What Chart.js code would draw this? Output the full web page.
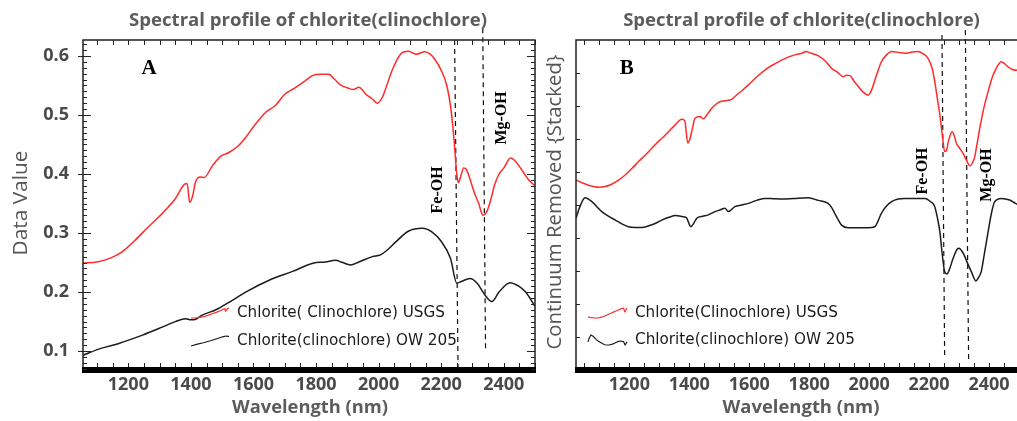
<!DOCTYPE html>
<html>
<head>
<meta charset="utf-8">
<script src="https://cdn.jsdelivr.net/npm/chart.js@4.4.0/dist/chart.umd.min.js"></script>
<style>
  html, body { margin: 0; padding: 0; background: #fff; width: 1017px; height: 421px; overflow: hidden; }
  canvas { position: absolute; top: 0; }
</style>
</head>
<body>
<canvas id="chartA" width="545" height="421" style="left:0"></canvas>
<canvas id="chartB" width="480" height="421" style="left:545px"></canvas>
<script>
// Panel A : reflectance (Data Value)
const wlUsgsA = [1055, 1100, 1140, 1180, 1220, 1265, 1310, 1350, 1380, 1388, 1396, 1405, 1415, 1430, 1442, 1470, 1495, 1520, 1550, 1575, 1600, 1640, 1670, 1700, 1730, 1760, 1790, 1815, 1840, 1860, 1878, 1900, 1920, 1937, 1960, 1980, 1995, 2012, 2030, 2045, 2070, 2095, 2120, 2148, 2165, 2180, 2200, 2218, 2230, 2240, 2250, 2255, 2262, 2272, 2280, 2290, 2305, 2320, 2334, 2345, 2358, 2370, 2385, 2400, 2422, 2440, 2460, 2480, 2500];
const usgsA = [0.249, 0.251, 0.257, 0.268, 0.287, 0.311, 0.334, 0.358, 0.383, 0.384, 0.352, 0.362, 0.387, 0.395, 0.394, 0.415, 0.430, 0.436, 0.447, 0.462, 0.480, 0.505, 0.516, 0.535, 0.545, 0.556, 0.567, 0.569, 0.569, 0.560, 0.551, 0.546, 0.543, 0.547, 0.535, 0.527, 0.520, 0.530, 0.556, 0.578, 0.603, 0.608, 0.603, 0.607, 0.603, 0.594, 0.576, 0.550, 0.515, 0.465, 0.400, 0.385, 0.395, 0.410, 0.408, 0.395, 0.370, 0.350, 0.330, 0.335, 0.355, 0.380, 0.400, 0.410, 0.427, 0.420, 0.405, 0.390, 0.380];
const wlOwA = [1055, 1115, 1170, 1245, 1310, 1350, 1383, 1400, 1410, 1436, 1480, 1520, 1575, 1650, 1725, 1790, 1830, 1862, 1885, 1910, 1937, 1980, 2006, 2025, 2055, 2095, 2140, 2170, 2200, 2230, 2250, 2265, 2292, 2315, 2340, 2362, 2385, 2420, 2448, 2470, 2500];
const owA = [0.093, 0.105, 0.113, 0.127, 0.141, 0.150, 0.155, 0.153, 0.153, 0.161, 0.170, 0.182, 0.200, 0.220, 0.235, 0.249, 0.251, 0.254, 0.250, 0.246, 0.251, 0.260, 0.263, 0.270, 0.285, 0.303, 0.308, 0.302, 0.286, 0.257, 0.215, 0.218, 0.223, 0.215, 0.195, 0.184, 0.200, 0.216, 0.210, 0.200, 0.176];

// Panel B : continuum removed, stacked (arbitrary units)
const wlUsgsB = [1022, 1040, 1064, 1097, 1120, 1141, 1165, 1186, 1210, 1230, 1255, 1275, 1300, 1320, 1352, 1375, 1385, 1395, 1402, 1410, 1419, 1436, 1447, 1460, 1475, 1490, 1502, 1520, 1541, 1560, 1580, 1597, 1625, 1652, 1680, 1708, 1730, 1752, 1775, 1790, 1800, 1831, 1855, 1875, 1895, 1914, 1925, 1936, 1950, 1964, 1980, 1997, 2008, 2025, 2041, 2058, 2075, 2100, 2119, 2140, 2163, 2180, 2196, 2210, 2219, 2228, 2236, 2245, 2252, 2258, 2265, 2277, 2284, 2291, 2302, 2313, 2325, 2336, 2345, 2352, 2360, 2369, 2383, 2397, 2410, 2424, 2441, 2452, 2463, 2480, 2500];
const usgsB = [5.76, 5.68, 5.60, 5.54, 5.56, 5.63, 5.76, 5.91, 6.12, 6.31, 6.53, 6.72, 6.95, 7.12, 7.42, 7.60, 7.55, 6.88, 7.00, 7.30, 7.63, 7.68, 7.61, 7.75, 7.93, 8.06, 8.13, 8.16, 8.20, 8.35, 8.50, 8.64, 8.88, 9.09, 9.25, 9.39, 9.48, 9.55, 9.60, 9.65, 9.62, 9.52, 9.35, 9.14, 9.02, 8.89, 8.93, 8.92, 8.75, 8.59, 8.42, 8.33, 8.48, 8.95, 9.34, 9.55, 9.65, 9.62, 9.60, 9.63, 9.65, 9.58, 9.45, 9.15, 8.74, 8.20, 7.73, 7.05, 6.62, 6.65, 6.95, 7.22, 7.10, 6.87, 6.72, 6.57, 6.35, 6.19, 6.28, 6.45, 6.85, 7.32, 7.95, 8.44, 8.85, 9.14, 9.34, 9.28, 9.19, 9.10, 9.08];
const wlOwB = [1022, 1035, 1052, 1075, 1108, 1130, 1152, 1175, 1197, 1220, 1241, 1265, 1286, 1310, 1330, 1355, 1375, 1390, 1405, 1415, 1425, 1445, 1463, 1486, 1502, 1519, 1530, 1552, 1575, 1597, 1625, 1652, 1680, 1708, 1750, 1797, 1830, 1863, 1875, 1885, 1897, 1908, 1930, 1960, 1997, 2019, 2030, 2041, 2058, 2075, 2097, 2119, 2150, 2186, 2205, 2219, 2228, 2236, 2244, 2252, 2260, 2268, 2280, 2294, 2300, 2308, 2317, 2330, 2341, 2356, 2366, 2374, 2385, 2397, 2408, 2419, 2441, 2469, 2488, 2500];
const owB = [4.60, 4.95, 5.22, 5.10, 4.80, 4.66, 4.55, 4.43, 4.34, 4.32, 4.32, 4.37, 4.44, 4.55, 4.62, 4.68, 4.65, 4.62, 4.34, 4.45, 4.60, 4.66, 4.70, 4.80, 4.85, 4.90, 4.80, 4.95, 5.00, 5.05, 5.14, 5.20, 5.19, 5.18, 5.20, 5.22, 5.14, 5.05, 4.92, 4.75, 4.55, 4.39, 4.31, 4.31, 4.31, 4.34, 4.52, 4.75, 4.97, 5.10, 5.18, 5.20, 5.20, 5.20, 5.10, 4.95, 4.60, 4.19, 3.50, 2.98, 2.91, 3.05, 3.38, 3.67, 3.69, 3.62, 3.48, 3.20, 2.98, 2.70, 2.82, 2.98, 3.55, 4.19, 4.75, 5.10, 5.20, 5.15, 5.05, 5.00];

const xTickLabels = [1200, 1400, 1600, 1800, 2000, 2200, 2400];
const yTickLabelsA = [0.1, 0.2, 0.3, 0.4, 0.5, 0.6];
const yTickMarksB = [1, 2, 3, 4, 5, 6, 7, 8, 9];

const namesA = ['Chlorite( Clinochlore) USGS', 'Chlorite(clinochlore) OW 205'];
const namesB = ['Chlorite(Clinochlore) USGS', 'Chlorite(clinochlore) OW 205'];
const featureNames = ['Fe-OH', 'Mg-OH'];

// dashed guides : [nm at top, nm at bottom, value at top, value at bottom]
const guidesA = [[2243, 2254, 0.627, 0.072], [2333, 2342, 0.647, 0.098]];
const guidesB = [[2243, 2252, 10.15, 0.36], [2321, 2332, 10.3, 0.24]];
// feature labels : [nm, value]
const featureAtA = [[2190, 0.373], [2393, 0.495]];
const featureAtB = [[2179, 6.03], [2393, 5.91]];

const TITLE = 'Spectral profile of chlorite(clinochlore)';
const RED = '#ff2a2a';
const BLACK = '#1c1c1c';

function pts(xs, ys) {
    return xs.map((x, i) => ({ x: x, y: ys[i] }));
}

function spectrum(label, xs, ys, color) {
    return {
        label: label,
        data: pts(xs, ys),
        borderColor: color,
        borderWidth: 1.5,
        pointRadius: 0,
        cubicInterpolationMode: 'monotone',
        fill: false
    };
}

function guide(g) {
    return {
        guide: true,
        data: [{ x: g[0], y: g[2] }, { x: g[1], y: g[3] }],
        borderColor: '#111',
        borderWidth: 1.2,
        borderDash: [5, 4],
        pointRadius: 0,
        tension: 0,
        clip: false
    };
}

// fit a font so that the text takes the given width
function fitFont(ctx, text, weight, family, width) {
    ctx.font = weight + ' 100px ' + family;
    const w = ctx.measureText(text).width;
    ctx.font = weight + ' ' + (100 * width / w).toFixed(2) + 'px ' + family;
}

const framePlugin = {
    id: 'frame',
    afterDraw(chart, args, o) {
        const ctx = chart.ctx, a = chart.chartArea, xs = chart.scales.x, ys = chart.scales.y;
        ctx.save();
        ctx.strokeStyle = '#222';
        ctx.lineWidth = 1.5;
        ctx.beginPath();
        ctx.moveTo(a.left, a.bottom);
        ctx.lineTo(a.left, a.top);
        ctx.lineTo(a.right, a.top);
        if (o.rightAxis) ctx.lineTo(a.right, a.bottom);
        ctx.stroke();
        ctx.fillStyle = '#000';
        ctx.fillRect(a.left - 1, a.bottom - 3, a.right - a.left + 2, 6);

        // x ticks, every 50 nm, pointing inside
        ctx.lineWidth = 1;
        ctx.beginPath();
        for (let v = Math.ceil(xs.min / 50) * 50; v <= xs.max; v += 50) {
            const px = Math.round(xs.getPixelForValue(v)) + 0.5;
            ctx.moveTo(px, a.top);
            ctx.lineTo(px, a.top + 5);
            ctx.moveTo(px, a.bottom - 3);
            ctx.lineTo(px, a.bottom - 7);
        }
        // y ticks
        o.yMarks.forEach(m => {
            const py = Math.round(ys.getPixelForValue(m.v)) + 0.5;
            const len = m.major ? 8 : 4;
            ctx.moveTo(a.left - (m.major && o.outside ? 5 : 0), py);
            ctx.lineTo(a.left + len, py);
            if (o.rightAxis) {
                ctx.moveTo(a.right, py);
                ctx.lineTo(a.right - len, py);
            }
        });
        ctx.stroke();
        ctx.restore();
    }
};

const notesPlugin = {
    id: 'notes',
    afterDraw(chart, args, o) {
        const ctx = chart.ctx, xs = chart.scales.x, ys = chart.scales.y;
        ctx.save();
        ctx.textAlign = 'center';
        ctx.textBaseline = 'middle';

        // title and axis titles
        ctx.fillStyle = '#5c5c5c';
        fitFont(ctx, TITLE, 'bold', '"Open Sans"', o.title[2]);
        ctx.fillText(TITLE, o.title[0], o.title[1]);
        fitFont(ctx, 'Wavelength (nm)', 'bold', '"Open Sans"', o.xTitle[2]);
        ctx.fillText('Wavelength (nm)', o.xTitle[0], o.xTitle[1]);
        ctx.save();
        ctx.translate(o.yTitle[0], o.yTitle[1]);
        ctx.rotate(-Math.PI / 2);
        ctx.fillStyle = '#555';
        fitFont(ctx, o.yTitleText, 'normal', '"Open Sans"', o.yTitle[2]);
        ctx.fillText(o.yTitleText, 0, 0);
        ctx.restore();

        // panel letter
        ctx.fillStyle = '#000';
        ctx.font = 'bold 21px "Liberation Serif"';
        ctx.fillText(o.letter, xs.getPixelForValue(o.letterAt[0]), ys.getPixelForValue(o.letterAt[1]));

        // absorption feature labels
        ctx.font = 'bold 16px "Liberation Serif"';
        o.features.forEach((f, i) => {
            ctx.save();
            ctx.translate(xs.getPixelForValue(f[0]), ys.getPixelForValue(f[1]));
            ctx.rotate(-Math.PI / 2);
            ctx.fillText(featureNames[i], 0, 0);
            ctx.restore();
        });

        // legend with a small copy of each spectrum as symbol
        const sets = chart.data.datasets.filter(d => !d.guide);
        sets.forEach((d, i) => {
            const cy = o.legend.y[i];
            const part = d.data.filter(p => p.x <= 1430);
            const lo = Math.min(...part.map(p => p.y)), hi = Math.max(...part.map(p => p.y));
            const x0 = part[0].x, x1 = part[part.length - 1].x;
            ctx.strokeStyle = d.borderColor;
            ctx.lineWidth = 1.2;
            ctx.beginPath();
            part.forEach((p, k) => {
                const px = o.legend.iconX + (p.x - x0) / (x1 - x0) * o.legend.iconW;
                const py = cy + 5 - (p.y - lo) / (hi - lo) * 10;
                if (k === 0) ctx.moveTo(px, py); else ctx.lineTo(px, py);
            });
            ctx.stroke();
            ctx.fillStyle = '#1a1a1a';
            ctx.textAlign = 'left';
            fitFont(ctx, d.label, 'normal', '"DejaVu Sans"', o.legend.w[i]);
            ctx.fillText(d.label, o.legend.x, cy);
        });
        ctx.restore();
    }
};

function ticksFrom(list) {
    return scale => { scale.ticks = list.map(v => ({ value: v })); };
}

const tickFont = { family: 'Open Sans', size: 18, weight: 'bold' };

function minorMarks(lo, hi) {
    const out = [];
    for (let i = Math.ceil(lo * 100); i <= Math.floor(hi * 100); i++) {
        out.push({ v: i / 100, major: i % 10 === 0 });
    }
    return out;
}

const chartA = new Chart(document.getElementById('chartA'), {
    type: 'line',
    data: {
        datasets: [
            spectrum(namesA[0], wlUsgsA, usgsA, RED),
            spectrum(namesA[1], wlOwA, owA, BLACK),
            guide(guidesA[0]),
            guide(guidesA[1])
        ]
    },
    options: {
        responsive: false,
        devicePixelRatio: 1,
        animation: false,
        layout: { padding: { left: 0, top: 40, right: 10, bottom: 0 } },
        plugins: {
            legend: { display: false },
            tooltip: { enabled: false },
            frame: { rightAxis: true, outside: true, yMarks: minorMarks(0.068, 0.627) },
            notes: {
                title: [308, 21, 358],
                xTitle: [310, 408, 156],
                yTitle: [21, 203, 105],
                yTitleText: 'Data Value',
                letter: 'A',
                letterAt: [1266, 0.579],
                features: featureAtA,
                legend: { x: 237, y: [313, 341], w: [208, 220], iconX: 191, iconW: 38 }
            }
        },
        scales: {
            x: {
                type: 'linear', min: 1055, max: 2500,
                grid: { display: false, drawTicks: false },
                border: { display: false },
                afterBuildTicks: ticksFrom(xTickLabels),
                afterFit: s => { s.height = 51; },
                ticks: { font: tickFont, color: '#4a4a4a', padding: 4, maxRotation: 0, callback: v => String(v) }
            },
            y: {
                min: 0.068, max: 0.627,
                grid: { display: false, drawTicks: false },
                border: { display: false },
                afterBuildTicks: ticksFrom(yTickLabelsA),
                afterFit: s => { s.width = 83; },
                ticks: { font: tickFont, color: '#4a4a4a', padding: 14, callback: v => v.toFixed(1) }
            }
        }
    },
    plugins: [framePlugin, notesPlugin]
});

const chartB = new Chart(document.getElementById('chartB'), {
    type: 'line',
    data: {
        datasets: [
            spectrum(namesB[0], wlUsgsB, usgsB, RED),
            spectrum(namesB[1], wlOwB, owB, BLACK),
            guide(guidesB[0]),
            guide(guidesB[1])
        ]
    },
    options: {
        responsive: false,
        devicePixelRatio: 1,
        animation: false,
        layout: { padding: { left: 0, top: 40, right: 6, bottom: 0 } },
        plugins: {
            legend: { display: false },
            tooltip: { enabled: false },
            frame: { rightAxis: false, outside: false, yMarks: yTickMarksB.map(v => ({ v: v, major: false })) },
            notes: {
                title: [256.5, 21, 357],
                xTitle: [256, 408, 157],
                yTitle: [10, 202, 295],
                yTitleText: 'Continuum Removed {Stacked}',
                letter: 'B',
                letterAt: [1191, 9.14],
                features: featureAtB,
                legend: { x: 90, y: [313, 340], w: [203, 220], iconX: 43, iconW: 39 }
            }
        },
        scales: {
            x: {
                type: 'linear', min: 1022, max: 2500,
                grid: { display: false, drawTicks: false },
                border: { display: false },
                afterBuildTicks: ticksFrom(xTickLabels),
                afterFit: s => { s.height = 51; },
                ticks: { font: tickFont, color: '#4a4a4a', padding: 4, maxRotation: 0, callback: v => String(v) }
            },
            y: {
                min: 0, max: 10,
                grid: { display: false, drawTicks: false },
                border: { display: false },
                afterBuildTicks: ticksFrom(yTickMarksB),
                afterFit: s => { s.width = 31; },
                ticks: { display: false }
            }
        }
    },
    plugins: [framePlugin, notesPlugin]
});
</script>
</body>
</html>
